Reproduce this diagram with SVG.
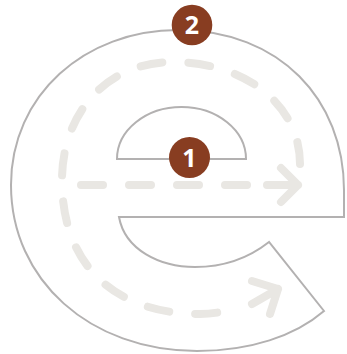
<svg xmlns="http://www.w3.org/2000/svg" width="347" height="354" viewBox="0 0 347 354">
<style>
.outline{fill:#ffffff;stroke:#b3b1b1;stroke-width:2;stroke-linejoin:miter}
.dash{fill:none;stroke:#e9e7e3;stroke-width:8;stroke-linecap:round;stroke-dasharray:22 26}
.arrow{fill:none;stroke:#e9e7e3;stroke-width:8;stroke-linecap:round;stroke-linejoin:round}
.badge{fill:#883d21}
.num{fill:#ffffff;font-family:"Open Sans",sans-serif;font-weight:bold;font-size:25px;text-anchor:middle}
</style>
<rect width="347" height="354" fill="#ffffff"/>
<g id="letter-e">
<path class="outline" d="M324,311 C295,336 250,351 197,351 C90,351 11,280 11,185 C11,95 85,30 178,30 C280,30 344,100 344,190 L344,217 L119,217 C125,250 160,267 195,267 C225,267 250,257 269,242 Z"/>
<path class="outline" d="M117,159 A64.5,52 0 0 1 246,159 Z"/>
</g>
<g id="connectors">
<path class="dash" d="M81,185 L249,185"/>
<path class="arrow" d="M267,185 L298,185 M281,168 L298,185 L281,202"/>
<path class="dash" d="M300,164 C300,105 245,62 173,62 C105,62 62,115 62,180 C62,270 120,314 200,314 C212,314 222,312 230,310"/>
<path class="arrow" d="M252,304 L278,289 M252,281 L278,289 L270,314"/>
</g>
<g id="step-1">
<circle class="badge" cx="189.5" cy="157.5" r="20.5"/>
<text class="num" x="189.5" y="166.5">1</text>
</g>
<g id="step-2">
<circle class="badge" cx="192" cy="25" r="20.3"/>
<text class="num" x="192" y="34">2</text>
</g>
</svg>
